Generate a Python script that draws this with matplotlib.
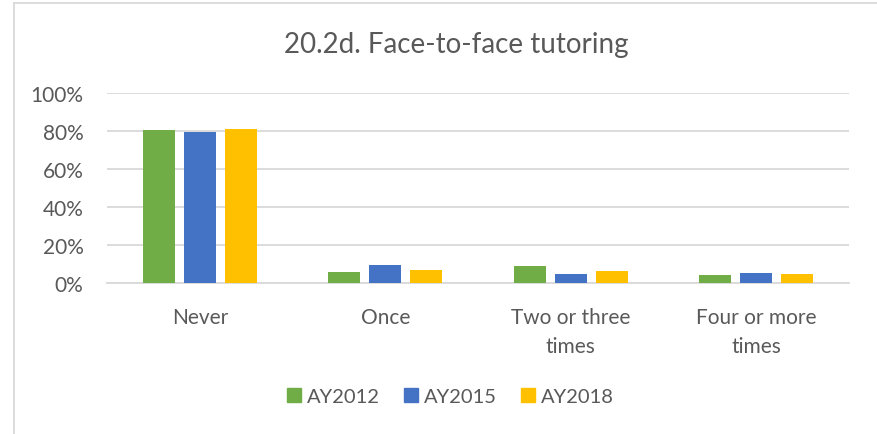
import matplotlib
matplotlib.use("Agg")
import matplotlib.pyplot as plt
from matplotlib.lines import Line2D
import numpy as np

categories = ["Never", "Once", "Two or three\ntimes", "Four or more\ntimes"]
series_names = ["AY2012", "AY2015", "AY2018"]
ay2012 = [80.7, 5.6, 8.8, 4.0]
ay2015 = [79.7, 9.5, 4.7, 5.1]
ay2018 = [80.9, 6.8, 6.3, 4.9]
colors = ["#70AD47", "#4472C4", "#FFC000"]
y_ticks = [0, 20, 40, 60, 80, 100]

plt.rcParams["font.family"] = ["Lato", "DejaVu Sans"]
text_color = "#595959"
grid_color = "#D9D9D9"

W, H = 877, 435
fig = plt.figure(figsize=(W / 100, H / 100), dpi=100)
fig.patch.set_facecolor("white")

# plot area in pixel coordinates
x0, x1, y_top, y_bot = 107, 849, 94, 284
ax = fig.add_axes([x0 / W, 1 - y_bot / H, (x1 - x0) / W, (y_bot - y_top) / H])

x = np.arange(len(categories))
bar_w = 0.173
step = 0.222
for i, (vals, col, name) in enumerate(zip([ay2012, ay2015, ay2018], colors, series_names)):
    ax.bar(x + (i - 1) * step, vals, width=bar_w, color=col, label=name, zorder=3)

ax.set_xlim(-0.5, len(categories) - 0.5)
ax.set_ylim(0, 100)
ax.set_yticks(y_ticks)
ax.set_yticklabels([f"{v}%" for v in y_ticks])
ax.set_xticks(x)
ax.set_xticklabels(categories, linespacing=1.6)
ax.yaxis.grid(True, color=grid_color, linewidth=1.3, zorder=0)
ax.set_axisbelow(True)
for side in ["top", "right", "left"]:
    ax.spines[side].set_visible(False)
ax.spines["bottom"].set_color(grid_color)
ax.spines["bottom"].set_linewidth(1.3)
ax.tick_params(axis="both", length=0, labelsize=15, labelcolor=text_color)
ax.tick_params(axis="y", pad=17)
ax.tick_params(axis="x", pad=17)

fig.text(456 / W, 1 - 45 / H, "20.2d. Face-to-face tutoring", ha="center", va="center",
         fontsize=20, color=text_color)

handles = [Line2D([], [], marker="s", linestyle="none", markersize=10,
                  markerfacecolor=c, markeredgecolor=c) for c in colors]
fig.legend(handles, series_names, loc="center", bbox_to_anchor=(450 / W, 1 - 397 / H),
           ncol=3, frameon=False, fontsize=14.5, labelcolor=text_color,
           handletextpad=0.27, columnspacing=1.17, handlelength=0.75)

# chart border
fig.add_artist(Line2D([14 / W, 1], [1 - 4 / H, 1 - 4 / H], transform=fig.transFigure,
                      color=grid_color, linewidth=1.3))
fig.add_artist(Line2D([14 / W, 14 / W], [0, 1 - 4 / H], transform=fig.transFigure,
                      color=grid_color, linewidth=1.3))

fig.savefig("out.png", dpi=100, facecolor="white")
